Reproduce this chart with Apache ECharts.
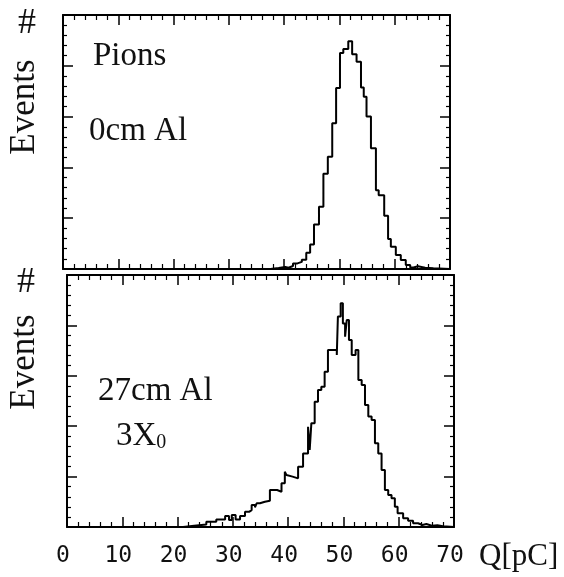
<!DOCTYPE html>
<html><head><meta charset="utf-8">
<script src="https://cdn.jsdelivr.net/npm/echarts@6/dist/echarts.min.js"></script>
<style>html,body{margin:0;padding:0;background:#fff}#c{width:564px;height:577px}</style>
</head><body><div id="c"></div>
<script>
// x axis (Q in pC) and y axis (events, arbitrary units)
const xTickLabels = ['0','10','20','30','40','50','60','70'];
// Top panel: Pions, 0cm Al — bin left edges (pC) and heights
const topEdges  = [0, 37.5, 39.0, 40.2, 40.8, 41.6, 42.4, 43.2, 44.0, 44.7, 45.4, 46.3, 47.1, 47.9, 48.7, 49.4, 50.1, 50.7, 51.6, 52.3, 53.1, 53.9, 54.4, 54.9, 55.7, 56.6, 57.1, 58.1, 58.8, 59.3, 60.2, 61.1, 62.0, 62.8, 63.4, 64.2, 65.5, 67.0, 70];
const topCounts = [0, 0.4, 0.8, 0.5, 1.2, 2.2, 2.8, 3.6, 6.4, 9.6, 17.5, 24.5, 37.5, 44.2, 57.4, 71.3, 85.0, 86.6, 89.7, 84.5, 81.6, 71.5, 67.8, 60.0, 47.5, 31.0, 29.0, 21.0, 11.8, 8.8, 5.5, 3.5, 1.6, 0.6, 1.1, 0.5, 0.3, 0, 0];
// Bottom panel: 27cm Al (3 X0)
const botEdges  = [0, 21.0, 23.0, 25.2, 27.0, 28.6, 29.3, 29.8, 30.5, 31.3, 32.2, 33.0, 33.4, 34.0, 34.3, 34.9, 35.8, 36.7, 37.4, 38.0, 38.8, 39.4, 39.7, 40.0, 40.8, 41.8, 42.7, 43.6, 43.9, 44.2, 44.8, 45.4, 46.0, 46.6, 47.2, 48.8, 49.0, 49.5, 49.9, 50.3, 50.6, 51.0, 51.5, 52.2, 52.7, 53.3, 53.9, 54.5, 55.1, 55.7, 56.3, 56.9, 57.5, 58.1, 58.7, 59.3, 59.8, 60.8, 61.7, 62.6, 63.5, 64.3, 65.0, 66.0, 67.0, 68.0, 70];
const botCounts = [0, 0.5, 1.0, 2.1, 3.0, 4.4, 2.8, 4.8, 3.0, 4.4, 6.1, 6.7, 8.7, 7.8, 9.4, 10.0, 10.4, 14.7, 14.7, 14.0, 17.4, 21.9, 20.6, 20.0, 19.3, 23.9, 29.2, 39.8, 30.6, 41.2, 49.7, 54.4, 55.7, 61.6, 70.2, 68.3, 83.5, 88.8, 80.8, 75.5, 82.1, 74.2, 68.3, 70.2, 58.3, 56.3, 48.4, 43.8, 42.5, 33.2, 29.2, 22.6, 14.7, 12.7, 11.4, 8.0, 5.5, 3.5, 2.5, 1.5, 0.8, 1.2, 0.5, 0.7, 0.3, 0, 0];

const chart = echarts.init(document.getElementById('c'), null, {renderer: 'canvas'});
const BLACK = '#000';
const serif = '"Liberation Serif", "DejaVu Serif", serif';

function xAx(grid, pos, showLabel) {
  return {
    type: 'value', gridIndex: grid, position: pos, min: 0, max: 70, interval: 10,
    axisLine: {show: true, onZero: false, lineStyle: {color: BLACK, width: 2}},
    axisTick: {show: true, inside: true, length: 10, lineStyle: {color: BLACK, width: 1.5}},
    minorTick: {show: true, splitNumber: 5, length: 5, lineStyle: {color: BLACK, width: 1.2}},
    splitLine: {show: false}, minorSplitLine: {show: false},
    axisLabel: {
      show: showLabel, margin: 18, color: '#111',
      fontFamily: '"DejaVu Sans Mono", monospace', fontSize: 23,
      padding: [0, 8, 0, 0],
      formatter: v => xTickLabels[Math.round(v / 10)]
    }
  };
}
function yAx(grid, pos) {
  return {
    type: 'value', gridIndex: grid, position: pos, min: 0, max: 100, interval: 20,
    axisLine: {show: true, onZero: false, lineStyle: {color: BLACK, width: 2}},
    axisTick: {show: true, inside: true, length: 10, lineStyle: {color: BLACK, width: 1.5}},
    minorTick: {show: true, splitNumber: 5, length: 4, lineStyle: {color: BLACK, width: 1.2}},
    splitLine: {show: false}, minorSplitLine: {show: false},
    axisLabel: {show: false}
  };
}
function histSeries(edges, counts, idx) {
  return {
    type: 'line', step: 'end', xAxisIndex: idx * 2, yAxisIndex: idx * 2,
    data: edges.map((e, i) => [e, counts[i]]),
    symbol: 'none', silent: true, clip: true,
    lineStyle: {color: BLACK, width: 2}
  };
}
function txt(x, y, s, size, extra) {
  return Object.assign({
    type: 'text', x: x, y: y,
    style: {text: s, fill: '#111', font: size + 'px ' + serif, textVerticalAlign: 'middle', textAlign: 'left'}
  }, extra || {});
}

chart.setOption({
  animation: false,
  backgroundColor: '#fff',
  grid: [
    {left: 63, top: 15, width: 387, height: 254},
    {left: 67, top: 275, width: 387, height: 252}
  ],
  xAxis: [xAx(0, 'bottom', false), xAx(0, 'top', false), xAx(1, 'bottom', true), xAx(1, 'top', false)],
  yAxis: [yAx(0, 'left'), yAx(0, 'right'), yAx(1, 'left'), yAx(1, 'right')],
  series: [histSeries(topEdges, topCounts, 0), histSeries(botEdges, botCounts, 1)],
  graphic: [
    {type: 'text', x: 27, y: 24, style: {text: '#', fill: '#111', font: '36px ' + serif, textAlign: 'center', textVerticalAlign: 'middle'}},
    {type: 'text', x: 26, y: 283, style: {text: '#', fill: '#111', font: '36px ' + serif, textAlign: 'center', textVerticalAlign: 'middle'}},
    {type: 'text', x: 25, y: 107, rotation: Math.PI / 2, style: {text: 'Events', fill: '#111', font: '35px ' + serif, textAlign: 'center', textVerticalAlign: 'middle'}},
    {type: 'text', x: 25, y: 362, rotation: Math.PI / 2, style: {text: 'Events', fill: '#111', font: '35px ' + serif, textAlign: 'center', textVerticalAlign: 'middle'}},
    txt(93, 56, 'Pions', 33),
    txt(89, 131, '0cm Al', 33),
    txt(98, 391, '27cm Al', 33),
    {type: 'text', x: 116, y: 436, style: {
      text: '3X{s|0}', fill: '#111', font: '33px ' + serif, textVerticalAlign: 'middle', textAlign: 'left',
      rich: {s: {fontSize: 20, fontFamily: serif, verticalAlign: 'bottom', padding: [14, 0, 0, 0]}}
    }},
    txt(479, 557, 'Q[pC]', 31)
  ]
});
</script>
</body></html>
